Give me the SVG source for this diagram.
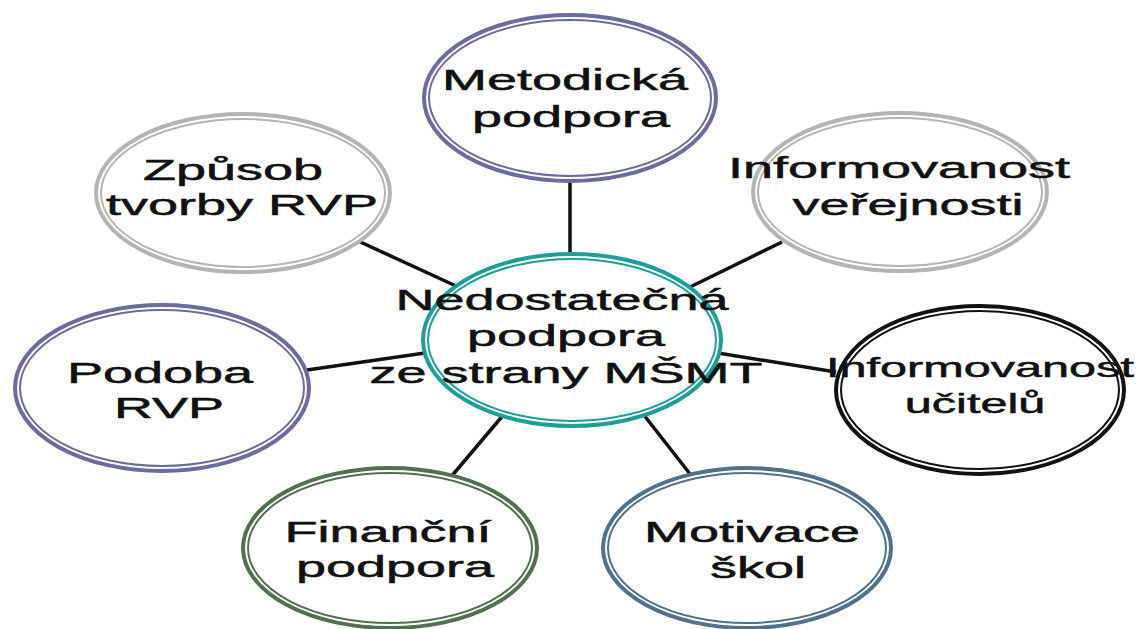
<svg xmlns="http://www.w3.org/2000/svg" width="1136" height="629" viewBox="0 0 1136 629">
<style>
.o{fill:white;stroke-width:4}
.i{fill:white;stroke-width:2}
.t{font-family:"Liberation Sans",Arial,sans-serif;font-size:30px;fill:#111;stroke:#111;stroke-width:0.5;text-anchor:middle}
.s{font-size:27px}
.c line{stroke:#111;stroke-width:3.5}
</style>
<rect width="1136" height="629" fill="white"/>
<g id="connectors" class="c">
<line x1="570" y1="182" x2="570" y2="256"/>
<line x1="356" y1="240" x2="456" y2="286"/>
<line x1="782" y1="242" x2="688" y2="288"/>
<line x1="307" y1="370" x2="425" y2="353"/>
<line x1="718" y1="353" x2="836" y2="372"/>
<line x1="450" y1="478" x2="505" y2="413"/>
<line x1="690" y1="474" x2="640" y2="410"/>
</g>
<g id="n-metodicka">
<ellipse class="o" cx="570" cy="98" rx="146" ry="83" stroke="#6b6ba0"/>
<ellipse class="i" cx="570" cy="98" rx="141" ry="78" stroke="#6b6ba0"/>
<text class="t" transform="translate(565,90) scale(1.8,1)">Metodická</text>
<text class="t" transform="translate(571,127) scale(1.8,1)">podpora</text>
</g>
<g id="n-zpusob">
<ellipse class="o" cx="243" cy="193" rx="147" ry="79" stroke="#b4b4b4"/>
<ellipse class="i" cx="243" cy="193" rx="142" ry="74" stroke="#b4b4b4"/>
<text class="t" transform="translate(233,180) scale(1.8,1)">Způsob</text>
<text class="t" transform="translate(242,215) scale(1.8,1)">tvorby RVP</text>
</g>
<g id="n-verejnost">
<ellipse class="o" cx="900" cy="192" rx="147" ry="79" stroke="#b4b4b4"/>
<ellipse class="i" cx="900" cy="192" rx="142" ry="74" stroke="#b4b4b4"/>
<text class="t" transform="translate(899,178) scale(1.8,1)">Informovanost</text>
<text class="t" transform="translate(908,215) scale(1.8,1)">veřejnosti</text>
</g>
<g id="n-podoba">
<ellipse class="o" cx="162" cy="388" rx="147" ry="83" stroke="#6b6ba0"/>
<ellipse class="i" cx="162" cy="388" rx="142" ry="78" stroke="#6b6ba0"/>
<text class="t" transform="translate(160,383) scale(1.8,1)">Podoba</text>
<text class="t" transform="translate(169,418) scale(1.8,1)">RVP</text>
</g>
<g id="n-ucitele">
<ellipse class="o" cx="980" cy="390" rx="144" ry="84" stroke="#111"/>
<ellipse class="i" cx="980" cy="390" rx="139" ry="79" stroke="#111"/>
<text class="t s" transform="translate(980,377) scale(1.8,1)">Informovanost</text>
<text class="t s" transform="translate(975,413) scale(1.8,1)">učitelů</text>
</g>
<g id="n-financni">
<ellipse class="o" cx="390" cy="548" rx="147" ry="80" stroke="#52704f"/>
<ellipse class="i" cx="390" cy="548" rx="142" ry="75" stroke="#52704f"/>
<text class="t" transform="translate(388,542) scale(1.8,1)">Finanční</text>
<text class="t" transform="translate(395,577) scale(1.8,1)">podpora</text>
</g>
<g id="n-motivace">
<ellipse class="o" cx="747" cy="548" rx="144" ry="80" stroke="#51718a"/>
<ellipse class="i" cx="747" cy="548" rx="139" ry="75" stroke="#51718a"/>
<text class="t" transform="translate(752,542) scale(1.8,1)">Motivace</text>
<text class="t" transform="translate(758,578) scale(1.8,1)">škol</text>
</g>
<g id="n-center">
<ellipse class="o" cx="572" cy="340" rx="149" ry="86" stroke="#1e9e98"/>
<ellipse class="i" cx="572" cy="340" rx="144" ry="81" stroke="#1e9e98"/>
<text class="t" transform="translate(562,310) scale(1.8,1)">Nedostatečná</text>
<text class="t" transform="translate(566,346) scale(1.8,1)">podpora</text>
<text class="t" transform="translate(566,383) scale(1.8,1)">ze strany MŠMT</text>
</g>
</svg>
